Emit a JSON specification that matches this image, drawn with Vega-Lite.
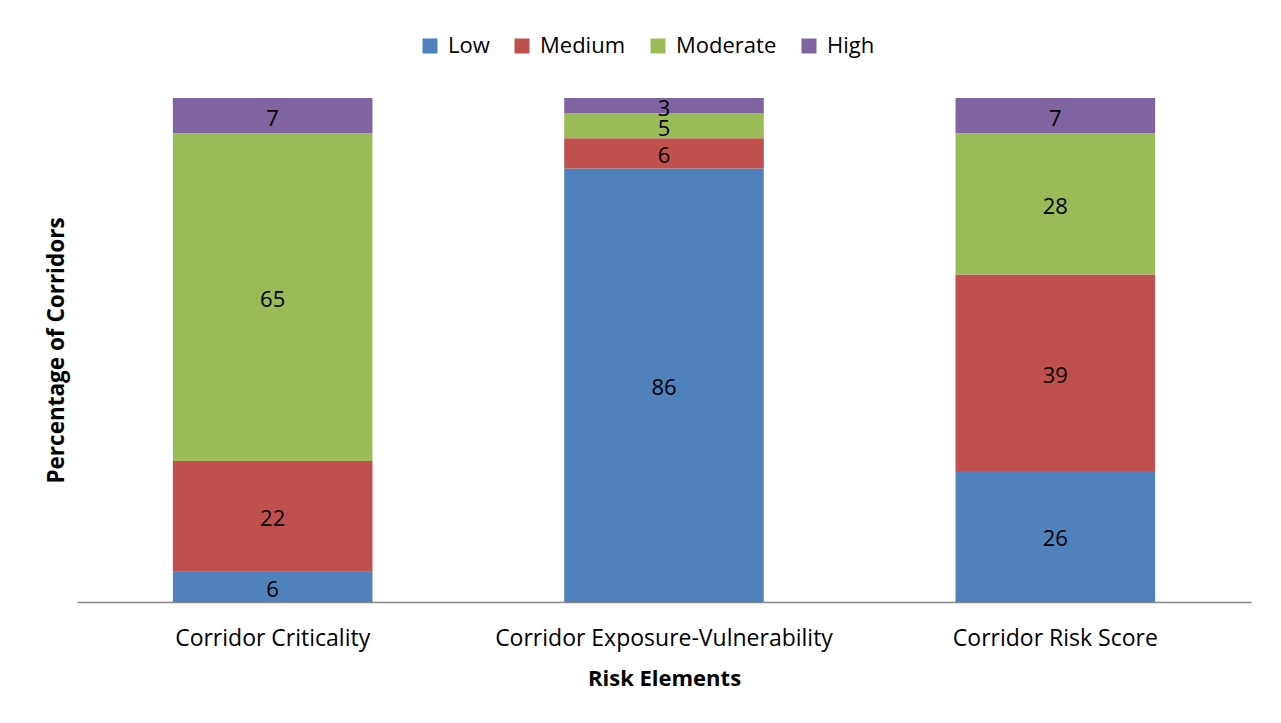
{
  "$schema": "https://vega.github.io/schema/vega-lite/v6.json",
  "width": 1174,
  "height": 504,
  "autosize": "none",
  "padding": {"left": 77, "top": 98, "right": 30, "bottom": 121},
  "background": "white",
  "config": {
    "font": "Open Sans",
    "view": {"stroke": null}
  },
  "data": {
    "values": [
      {"element": "Corridor Criticality", "level": "Low", "rank": 1, "pct": 6},
      {"element": "Corridor Criticality", "level": "Medium", "rank": 2, "pct": 22},
      {"element": "Corridor Criticality", "level": "Moderate", "rank": 3, "pct": 65},
      {"element": "Corridor Criticality", "level": "High", "rank": 4, "pct": 7},
      {"element": "Corridor Exposure-Vulnerability", "level": "Low", "rank": 1, "pct": 86},
      {"element": "Corridor Exposure-Vulnerability", "level": "Medium", "rank": 2, "pct": 6},
      {"element": "Corridor Exposure-Vulnerability", "level": "Moderate", "rank": 3, "pct": 5},
      {"element": "Corridor Exposure-Vulnerability", "level": "High", "rank": 4, "pct": 3},
      {"element": "Corridor Risk Score", "level": "Low", "rank": 1, "pct": 26},
      {"element": "Corridor Risk Score", "level": "Medium", "rank": 2, "pct": 39},
      {"element": "Corridor Risk Score", "level": "Moderate", "rank": 3, "pct": 28},
      {"element": "Corridor Risk Score", "level": "High", "rank": 4, "pct": 7}
    ]
  },
  "encoding": {
    "x": {
      "field": "element",
      "type": "nominal",
      "sort": null,
      "scale": {"paddingInner": 0.49, "paddingOuter": 0.245},
      "axis": {
        "title": "Risk Elements",
        "titleFontSize": 22,
        "titleFontWeight": "bold",
        "titleColor": "black",
        "titlePadding": 18,
        "labelAngle": 0,
        "labelFontSize": 23,
        "labelColor": "black",
        "labelPadding": 25,
        "labelLimit": 0,
        "ticks": false,
        "domainColor": "#888888",
        "domainWidth": 1.5
      }
    },
    "y": {
      "field": "pct",
      "type": "quantitative",
      "stack": "zero",
      "scale": {"domain": [0, 100]},
      "axis": {
        "title": "Percentage of Corridors",
        "titleFontSize": 22.5,
        "titleFontWeight": "bold",
        "titleColor": "black",
        "titlePadding": 9,
        "labels": false,
        "ticks": false,
        "domain": false,
        "grid": false
      }
    },
    "order": {"field": "rank", "type": "quantitative"}
  },
  "layer": [
    {
      "mark": {"type": "bar"},
      "encoding": {
        "color": {
          "field": "level",
          "type": "nominal",
          "scale": {
            "domain": ["Low", "Medium", "Moderate", "High"],
            "range": ["#4F81BD", "#C0504D", "#9BBB59", "#8064A2"]
          },
          "legend": {
            "title": null,
            "orient": "none",
            "direction": "horizontal",
            "legendX": 342,
            "legendY": -63,
            "symbolType": "square",
            "symbolSize": 225,
            "symbolStrokeWidth": 0,
            "symbolOpacity": 1,
            "labelFontSize": 22,
            "labelColor": "black",
            "labelOffset": 7,
            "columnPadding": 21
          }
        }
      }
    },
    {
      "mark": {"type": "text", "fontSize": 22, "color": "black", "baseline": "middle", "align": "center", "dy": 3},
      "encoding": {
        "y": {"field": "pct", "type": "quantitative", "stack": "zero", "bandPosition": 0.5},
        "text": {"field": "pct", "type": "quantitative"}
      }
    }
  ]
}
